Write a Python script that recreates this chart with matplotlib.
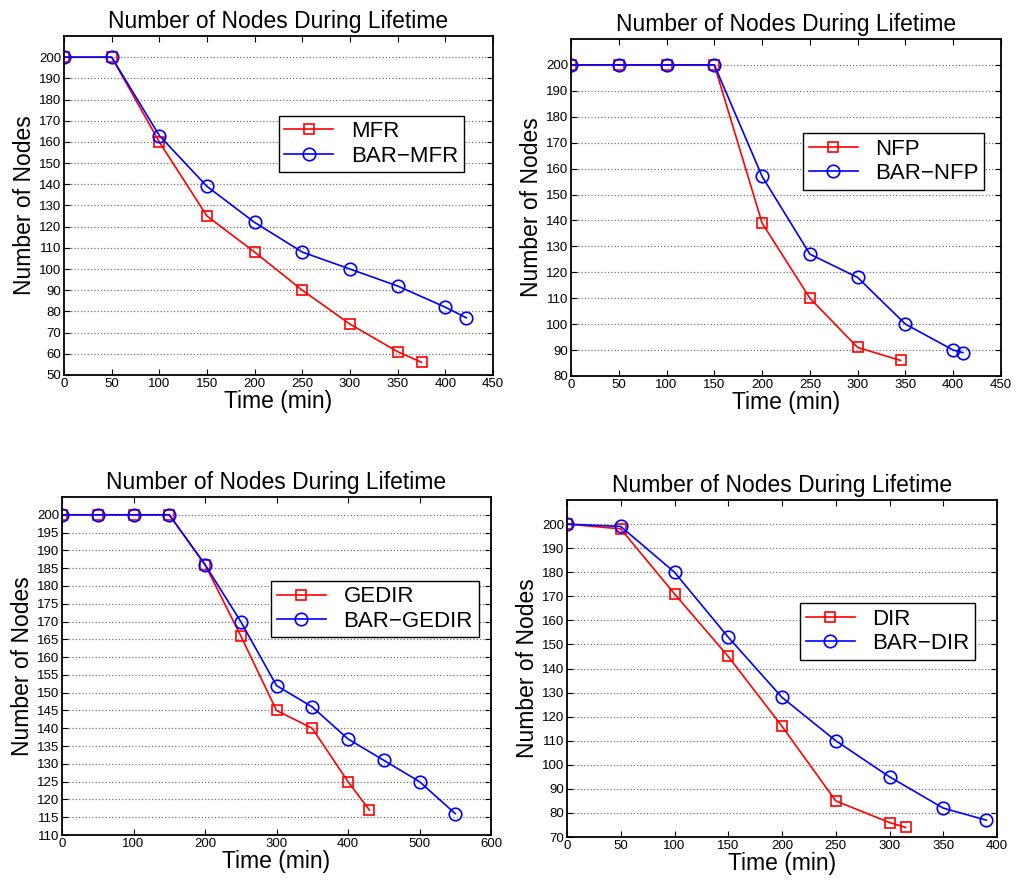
import matplotlib
matplotlib.use("Agg")
import matplotlib.pyplot as plt
import numpy as np

plt.rcParams['font.family'] = ['Liberation Sans', 'DejaVu Sans']

# MFR vs BAR-MFR
mfr_t = [0, 50, 100, 150, 200, 250, 300, 350, 375]
mfr_n = [200, 200, 160, 125, 108, 90, 74, 61, 56]
bar_mfr_t = [0, 50, 100, 150, 200, 250, 300, 350, 400, 422]
bar_mfr_n = [200, 200, 163, 139, 122, 108, 100, 92, 82, 77]

# NFP vs BAR-NFP
nfp_t = [0, 50, 100, 150, 200, 250, 300, 345]
nfp_n = [200, 200, 200, 200, 139, 110, 91, 86]
bar_nfp_t = [0, 50, 100, 150, 200, 250, 300, 350, 400, 410]
bar_nfp_n = [200, 200, 200, 200, 157, 127, 118, 100, 90, 89]

# GEDIR vs BAR-GEDIR
gedir_t = [0, 50, 100, 150, 200, 250, 300, 350, 400, 430]
gedir_n = [200, 200, 200, 200, 186, 166, 145, 140, 125, 117]
bar_gedir_t = [0, 50, 100, 150, 200, 250, 300, 350, 400, 450, 500, 550]
bar_gedir_n = [200, 200, 200, 200, 186, 170, 152, 146, 137, 131, 125, 116]

# DIR vs BAR-DIR
dir_t = [0, 50, 100, 150, 200, 250, 300, 315]
dir_n = [200, 198, 171, 145, 116, 85, 76, 74]
bar_dir_t = [0, 50, 100, 150, 200, 250, 300, 350, 390]
bar_dir_n = [200, 199, 180, 153, 128, 110, 95, 82, 77]

W, H = 1016, 881
fig = plt.figure(figsize=(W / 100, H / 100), dpi=100)


def box(left, right, top, bottom):
    return [left / W, 1 - bottom / H, (right - left) / W, (bottom - top) / H]


panels = [
    dict(rect=box(64, 493, 36, 375), names=("MFR", "BAR\u2212MFR"),
         a=(mfr_t, mfr_n), b=(bar_mfr_t, bar_mfr_n),
         xlim=(0, 450), xticks=np.arange(0, 451, 50),
         ylim=(50, 210), yticks=np.arange(50, 201, 10), leg=(0.50, 0.765)),
    dict(rect=box(571, 1001, 39, 376), names=("NFP", "BAR\u2212NFP"),
         a=(nfp_t, nfp_n), b=(bar_nfp_t, bar_nfp_n),
         xlim=(0, 450), xticks=np.arange(0, 451, 50),
         ylim=(80, 210), yticks=np.arange(80, 201, 10), leg=(0.54, 0.72)),
    dict(rect=box(62, 491, 497, 835), names=("GEDIR", "BAR\u2212GEDIR"),
         a=(gedir_t, gedir_n), b=(bar_gedir_t, bar_gedir_n),
         xlim=(0, 600), xticks=np.arange(0, 601, 100),
         ylim=(110, 205), yticks=np.arange(110, 201, 5), leg=(0.488, 0.752)),
    dict(rect=box(567, 997, 500, 837), names=("DIR", "BAR\u2212DIR"),
         a=(dir_t, dir_n), b=(bar_dir_t, bar_dir_n),
         xlim=(0, 400), xticks=np.arange(0, 401, 50),
         ylim=(70, 210), yticks=np.arange(70, 201, 10), leg=(0.542, 0.694)),
]

for p in panels:
    ax = fig.add_axes(p["rect"])
    ax.plot(p["a"][0], p["a"][1], color='red', lw=1.2, marker='s', ms=7,
            mfc='none', mew=1.2, label=p["names"][0])
    ax.plot(p["b"][0], p["b"][1], color='blue', lw=1.2, marker='o', ms=9,
            mfc='none', mew=1.2, label=p["names"][1])
    ax.set_xlim(p["xlim"])
    ax.set_ylim(p["ylim"])
    ax.set_xticks(p["xticks"])
    ax.set_yticks(p["yticks"])
    ax.yaxis.grid(True, linestyle=':', color='0.45', lw=0.9)
    ax.tick_params(direction='in', top=True, right=True, labelsize=9.5,
                   length=4, width=0.8, pad=2)
    for s in ax.spines.values():
        s.set_linewidth(1.3)
    ax.set_title("Number of Nodes During Lifetime", fontsize=16.5, pad=6)
    ax.set_xlabel("Time (min)", fontsize=16.5, labelpad=0)
    ax.set_ylabel("Number of Nodes", fontsize=16.5, labelpad=2)
    leg = ax.legend(loc='upper left', bbox_to_anchor=p["leg"], fontsize=16,
                    fancybox=False, edgecolor='black', framealpha=1,
                    handlelength=2.2, borderpad=0.25, labelspacing=0.15,
                    borderaxespad=0)
    leg.get_frame().set_linewidth(1.0)

fig.savefig("out.png", dpi=100)
